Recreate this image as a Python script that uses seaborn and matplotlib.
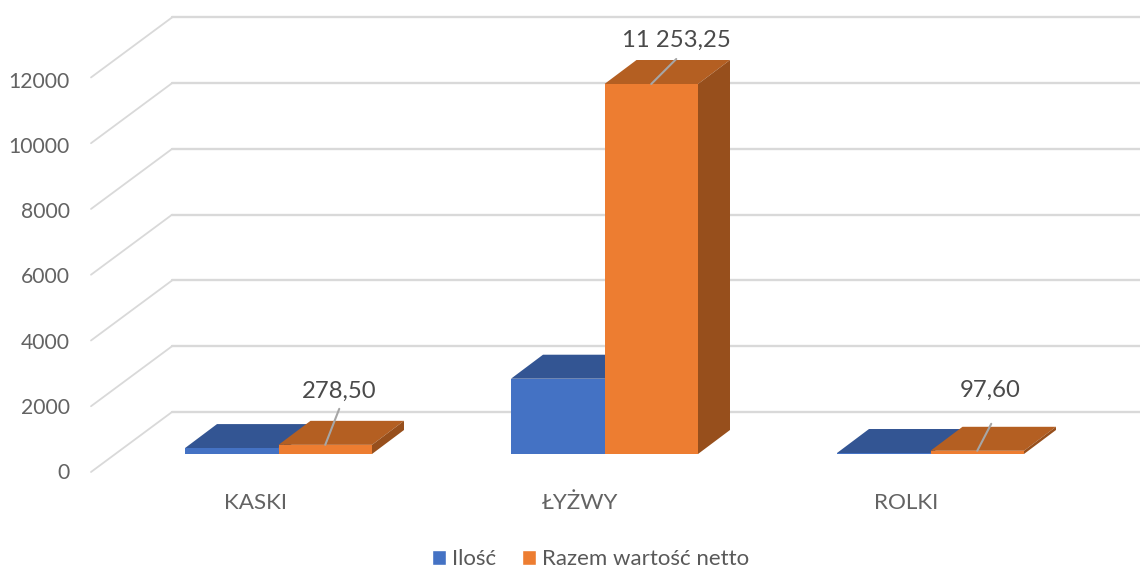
import pandas as pd
import matplotlib.pyplot as plt
import seaborn as sns
from matplotlib.patches import Polygon

# Data
categories = ["KASKI", "ŁYŻWY", "ROLKI"]
ilosc = [180, 2290, 30]
wartosc = [278.50, 11253.25, 97.60]
series_names = ["Ilość", "Razem wartość netto"]
y_ticks = [0, 2000, 4000, 6000, 8000, 10000, 12000]

df = pd.DataFrame({
    "kategoria": categories * 2,
    "seria": [series_names[0]] * 3 + [series_names[1]] * 3,
    "wartosc": ilosc + wartosc,
})

# Scale of the bar plane, pixels per data unit
W, H = 1140, 568
PX_X = 326.0
PX_Y = 370 / 11253.25
X0_PX = 278.5
Y0_PX = 454


def dx(px):
    return px / PX_X


def dy(px):
    return px / PX_Y


sns.set_theme(style="white", font="Lato")
fig = plt.figure(figsize=(W / 100, H / 100), dpi=100)
ax = fig.add_axes([0, 0, 1, 1])

sns.barplot(data=df, x="kategoria", y="wartosc", hue="seria", width=dx(187),
            palette=["#4472C4", "#ED7D31"], saturation=1, ax=ax)

ax.set_xlim(dx(-X0_PX), dx(W - X0_PX))
ax.set_ylim(dy(Y0_PX - H), dy(Y0_PX))
ax.axis("off")

# Walls and grid
front_x, back_x = dx(91 - X0_PX), dx(172 - X0_PX)
front_y, back_y = dy(Y0_PX - 472), dy(Y0_PX - 412)
for v in y_ticks:
    ax.plot([front_x, back_x], [v + front_y, v + back_y], color="#d9d9d9", lw=1.3, zorder=1)
    ax.plot([back_x, dx(W - X0_PX)], [v + back_y, v + back_y], color="#d9d9d9", lw=1.7, zorder=1)
    # the tick labels sit on a slightly tighter scale than the grid
    ax.text(dx(70 - X0_PX), v * 0.991 + dy(Y0_PX - 473), str(v), ha="right", va="center",
            fontsize=15.2, color="#636363")

# 3D faces of the bars
depth_x, depth_y = dx(32), dy(24)
top_colors = ["#335593", "#B45F22"]
side_colors = ["#264170", "#974F1C"]
for i, container in enumerate(ax.containers):
    for p in container.patches:
        x, w, h = p.get_x(), p.get_width(), p.get_height()
        top = [(x, h), (x + w, h), (x + w + depth_x, h + depth_y), (x + depth_x, h + depth_y)]
        side = [(x + w, 0), (x + w + depth_x, depth_y), (x + w + depth_x, h + depth_y), (x + w, h)]
        ax.add_patch(Polygon(top, closed=True, fc=top_colors[i], ec="none", zorder=3 + 2 * i))
        ax.add_patch(Polygon(side, closed=True, fc=side_colors[i], ec="none", zorder=3 + 2 * i))
        p.set_zorder(4 + 2 * i)
        p.set_edgecolor("none")

# Category labels
label_x = [255, 580, 906]
for name, px in zip(categories, label_x):
    ax.text(dx(px - X0_PX), dy(Y0_PX - 503), name, ha="center", va="center",
            fontsize=16.2, color="#636363")

# Data labels with leader lines
line_off = [(14, 36), (25, 25), (14, 27)]
text_off = [(14, 53), (25, 44), (13, 60)]
for p, v, lo, to in zip(ax.containers[1].patches, wartosc, line_off, text_off):
    xy = (p.get_x() + p.get_width() / 2, p.get_height())
    ax.annotate("", xy=xy, xytext=lo, textcoords="offset pixels",
                arrowprops=dict(arrowstyle="-", color="#a6a6a6", lw=1.5, shrinkA=0, shrinkB=0),
                zorder=8)
    label = f"{v:,.2f}".replace(",", " ").replace(".", ",")
    ax.annotate(label, xy=xy, xytext=to, textcoords="offset pixels", ha="center", va="center",
                fontsize=17.2, color="#4a4a4a", zorder=9)

sns.move_legend(ax, "lower center", bbox_to_anchor=(0.518, -0.002), ncol=2, title=None,
                frameon=False, fontsize=16, handlelength=0.63, handleheight=0.63,
                columnspacing=1.2, handletextpad=0.27, labelcolor="#595959",
                borderaxespad=0, borderpad=0)

fig.savefig("out.png", dpi=100)
